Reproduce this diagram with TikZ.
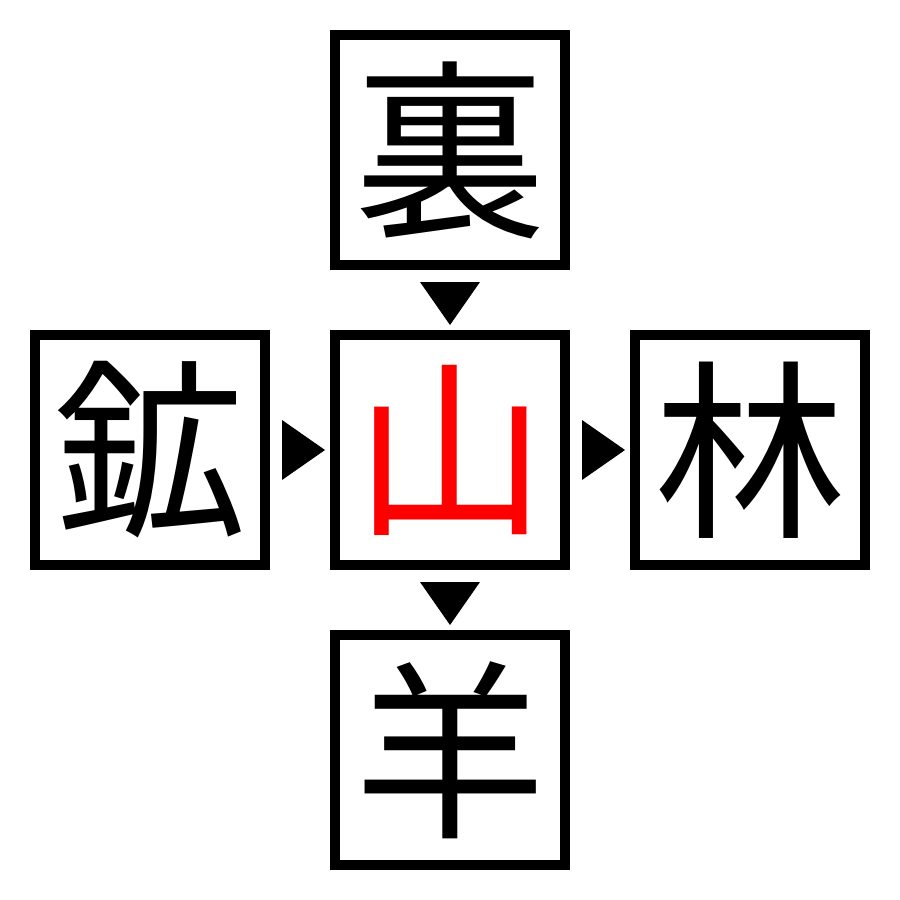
\documentclass[tikz,border=0pt]{standalone}
\usepackage{fontspec}
\newfontfamily\cjk{Noto Sans CJK JP}
\usetikzlibrary{calc}
\tikzset{
  kbox/.style={draw=black, line width=10pt, minimum size=230pt, inner sep=0pt, fill=white,
    font=\cjk\fontsize{192}{192}\selectfont},
  tri/.style={fill=black, draw=none}
}
\begin{document}
\begin{tikzpicture}[x=1pt,y=-1pt]
\useasboundingbox (0,0) rectangle (900,900);
\node[kbox] (T) at (450,150) {裏};
\node[kbox] (L) at (150,450) {鉱};
\node[kbox, text=red] (C) at (450,450) {山};
\node[kbox] (R) at (750,450) {林};
\node[kbox] (B) at (450,750) {羊};
% arrowheads between boxes
\fill[tri] ($(T.south)+(-30,12)$) -- ($(T.south)+(30,12)$) -- ($(T.south)+(0,55)$) -- cycle;
\fill[tri] ($(L.east)+(12,-30)$) -- ($(L.east)+(12,30)$) -- ($(L.east)+(55,0)$) -- cycle;
\fill[tri] ($(C.east)+(12,-30)$) -- ($(C.east)+(12,30)$) -- ($(C.east)+(55,0)$) -- cycle;
\fill[tri] ($(C.south)+(-30,12)$) -- ($(C.south)+(30,12)$) -- ($(C.south)+(0,55)$) -- cycle;
\end{tikzpicture}
\end{document}
